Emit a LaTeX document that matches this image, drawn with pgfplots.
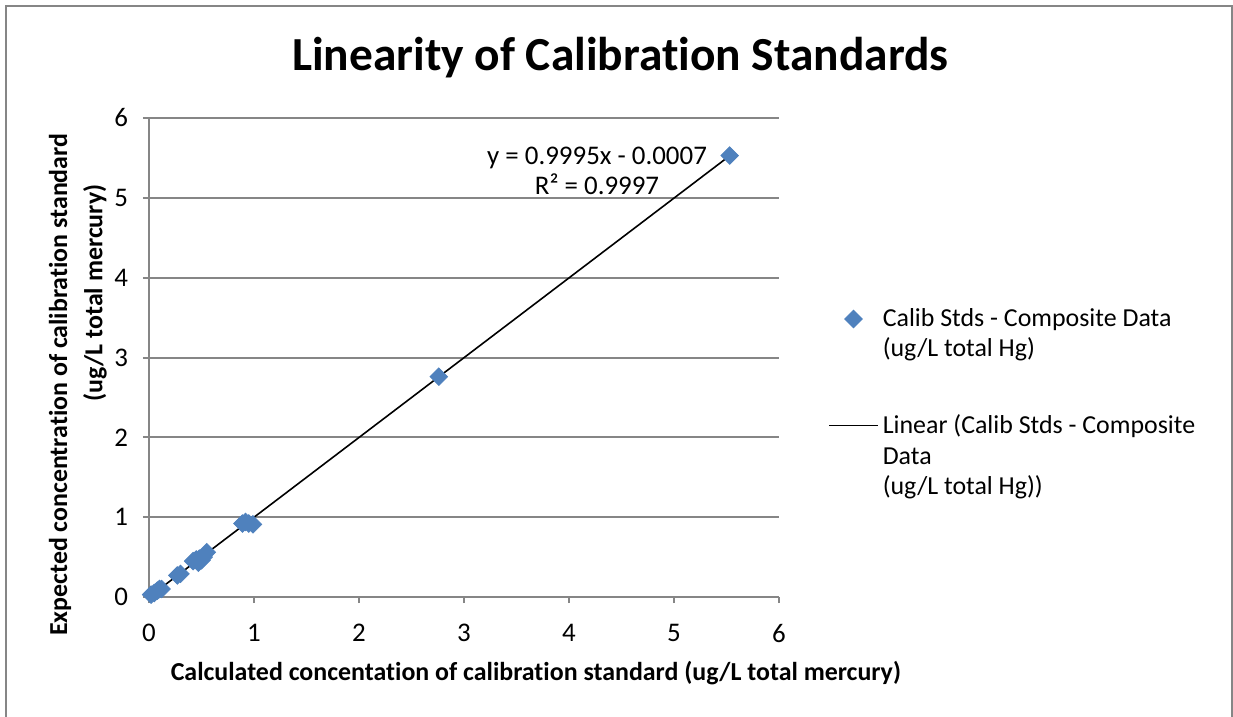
\documentclass[border=0pt]{standalone}
\usepackage{pgfplots}
\pgfplotsset{compat=1.18}
\usepackage{fontspec}
\setmainfont{Carlito}[Ligatures={NoCommon,NoContextual,NoRequired}, RawFeature={-liga;-clig;-calt;-dlig}]
\definecolor{xlblue}{HTML}{4F81BD}
\definecolor{xlgray}{HTML}{868686}
\pgfplotsset{
  markleg/.style={legend image code/.code={\draw[mark repeat=2,mark phase=2,##1] plot coordinates {(0bp,18.8bp)(12.25bp,18.8bp)(24.5bp,18.8bp)};}},
  lineleg/.style={legend image code/.code={\draw[##1] (0bp,34.6bp) -- (24.5bp,34.6bp);}},
}
\begin{document}
\begin{tikzpicture}
\useasboundingbox (0,0) rectangle (616.5bp,358.5bp);
\draw[xlgray, line width=1bp] (3bp,-2bp) -- (3bp,355.5bp) -- (615.9bp,355.5bp) -- (615.9bp,-2bp);
\begin{axis}[
  at={(74.5bp,60bp)}, anchor=south west,
  scale only axis, width=315bp, height=239.5bp,
  xmin=0, xmax=6, ymin=0, ymax=6,
  xtick={0,1,2,3,4,5,6}, ytick={0,1,2,3,4,5,6},
  axis x line*=bottom, axis y line*=left,
  axis line style={xlgray, line width=1bp, -},
  ymajorgrids, grid style={xlgray, line width=1bp},
  tick style={xlgray, line width=1bp},
  tick align=outside, major tick length=3bp,
  ticklabel style={font=\fontsize{13.5}{16}\selectfont},
  xticklabel style={yshift=-7bp},
  yticklabel style={xshift=-4bp},
  /pgf/number format/assume math mode=true,
  clip=false,
  xlabel={Calculated concentation of calibration standard (ug/L total mercury)},
  xlabel style={font=\bfseries\fontsize{13}{16}\selectfont, at={(axis description cs:0.614,-0.159)}, anchor=center},
  legend style={at={(axis description cs:1.068,0.6205)}, anchor=north west, draw=none, fill=none,
    font=\fontsize{13}{15.3}\selectfont, cells={anchor=base west, align=left}, row sep=23.55bp, column sep=0bp},
]
\addplot[only marks, mark=square*, mark size=3.1bp, mark options={rotate=45, fill=xlblue, draw=xlblue}, markleg]
coordinates {
(0.02,0.03) (0.05,0.05) (0.08,0.08) (0.10,0.10) (0.12,0.10)
(0.27,0.27) (0.30,0.29)
(0.42,0.45) (0.45,0.47) (0.47,0.43) (0.48,0.48) (0.50,0.46) (0.52,0.50) (0.55,0.56)
(0.89,0.92) (0.92,0.94) (0.95,0.92) (0.99,0.91)
(2.76,2.76) (5.53,5.53)
};
\addlegendentry{Calib Stds - Composite Data\\(ug/L total Hg)}
\addplot[black, line width=0.8bp, lineleg]
coordinates {(0.02,0.0193) (5.53,5.5265)};
\addlegendentry{Linear (Calib Stds - Composite\\Data\\(ug/L total Hg))}
\node[align=center, font=\fontsize{13.5}{15}\selectfont] at (axis cs:4.267,5.336) {y = 0.9995x - 0.0007\\R² = 0.9997};
\node[font=\bfseries\fontsize{23.8}{28}\selectfont] at (axis description cs:0.748,1.127) {Linearity of Calibration Standards};
\node[rotate=90, font=\bfseries\fontsize{13}{16}\selectfont] at (axis description cs:-0.141,0.443) {Expected concentration of calibration standard};
\node[rotate=90, font=\bfseries\fontsize{13}{16}\selectfont] at (axis description cs:-0.0857,0.635) {(ug/L total mercury)};
\end{axis}
\end{tikzpicture}
\end{document}
